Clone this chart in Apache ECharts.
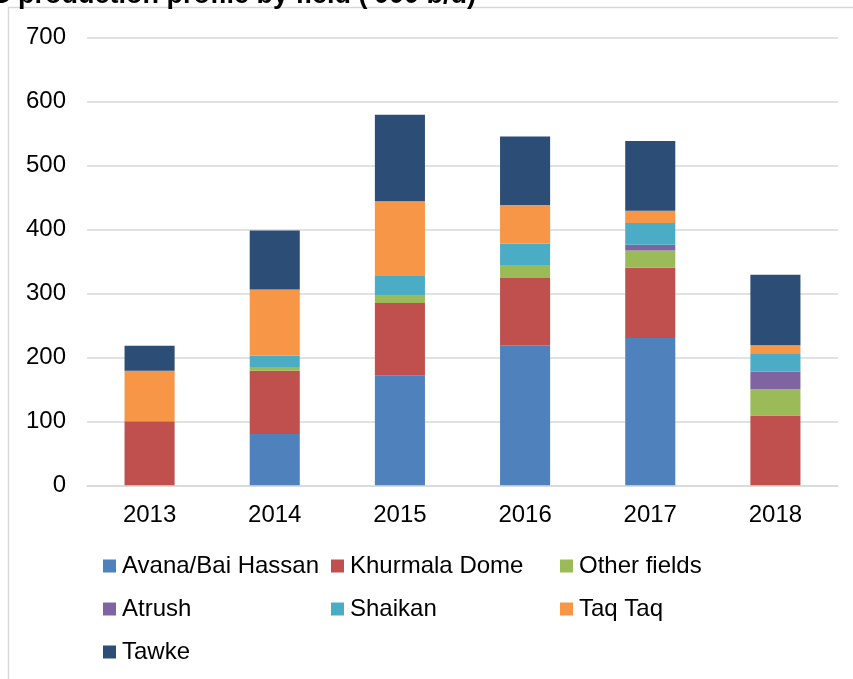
<!DOCTYPE html>
<html>
<head>
<meta charset="utf-8">
<script src="https://cdn.jsdelivr.net/npm/echarts@6/dist/echarts.min.js"></script>
<style>
  html, body { margin: 0; padding: 0; background: #fff; }
  #main { width: 853px; height: 679px; }
</style>
</head>
<body>
<div id="main"></div>
<script>
// 年份
var years = ['2013', '2014', '2015', '2016', '2017', '2018'];
// 各油田产量 ('000 b/d)
var avana = [0, 80, 171, 219, 230, 0];
var khurmala = [100, 99, 114, 105, 110, 109];
var otherFields = [0, 6, 11, 19, 27, 41];
var atrush = [0, 0, 0, 0, 9, 28];
var shaikan = [0, 18, 31, 35, 34, 27];
var taqTaq = [79, 103, 117, 60, 19, 14];
var tawke = [39, 92, 135, 107, 109, 110];
// 图例名称
var names = ['Avana/Bai Hassan', 'Khurmala Dome', 'Other fields', 'Atrush', 'Shaikan', 'Taq Taq', 'Tawke'];
var colors = ['#4f81bd', '#c0504d', '#9bbb59', '#8064a2', '#4bacc6', '#f79646', '#2c4d75'];
var yTicks = [0, 100, 200, 300, 400, 500, 600, 700];

var font = '"Liberation Sans", Arial, sans-serif';
var chart = echarts.init(document.getElementById('main'), null, { renderer: 'canvas' });

var seriesData = [avana, khurmala, otherFields, atrush, shaikan, taqTaq, tawke];
var series = seriesData.map(function (arr, i) {
  return {
    name: names[i],
    type: 'bar',
    stack: 'total',
    barWidth: '40%',
    data: arr,
    itemStyle: { color: colors[i] },
    emphasis: { disabled: true }
  };
});

// 图例：三列
function legendCol(left, items) {
  return {
    orient: 'vertical',
    left: left,
    top: 552,
    padding: 0,
    data: items,
    icon: 'rect',
    itemWidth: 13,
    itemHeight: 13,
    itemGap: 15,
    selectedMode: false,
    textStyle: { fontFamily: font, fontSize: 24, color: '#000', lineHeight: 28, padding: [0, 0, 0, 1] }
  };
}

var option = {
  animation: false,
  color: colors,
  grid: { left: 87, right: 15, top: 37.3, bottom: 193.7 },
  graphic: [
    {
      type: 'rect',
      shape: { x: 8.5, y: 7.5, width: 900, height: 700 },
      style: { fill: 'none', stroke: '#d9d9d9', lineWidth: 1.5 },
      z: -1
    },
    {
      type: 'text',
      x: 476, y: 9,
      style: {
        text: "KRG production profile by field ('000 b/d)",
        font: 'bold 27px "Liberation Sans", Arial, sans-serif',
        fill: '#000',
        align: 'right',
        verticalAlign: 'bottom'
      }
    }
  ],
  legend: [
    legendCol(103, [names[0], names[3], names[6]]),
    legendCol(331, [names[1], names[4]]),
    legendCol(560, [names[2], names[5]])
  ],
  xAxis: {
    type: 'category',
    data: years,
    axisLine: { lineStyle: { color: '#d9d9d9', width: 1.5 } },
    axisTick: { show: false },
    axisLabel: { fontFamily: font, fontSize: 24, color: '#000', margin: 18 }
  },
  yAxis: {
    type: 'value',
    min: yTicks[0],
    max: yTicks[yTicks.length - 1],
    interval: 100,
    axisLine: { show: false },
    axisTick: { show: false },
    splitLine: { lineStyle: { color: '#d9d9d9', width: 1.5 } },
    axisLabel: { fontFamily: font, fontSize: 24, color: '#000', margin: 21 }
  },
  series: series
};

chart.setOption(option);
</script>
</body>
</html>
